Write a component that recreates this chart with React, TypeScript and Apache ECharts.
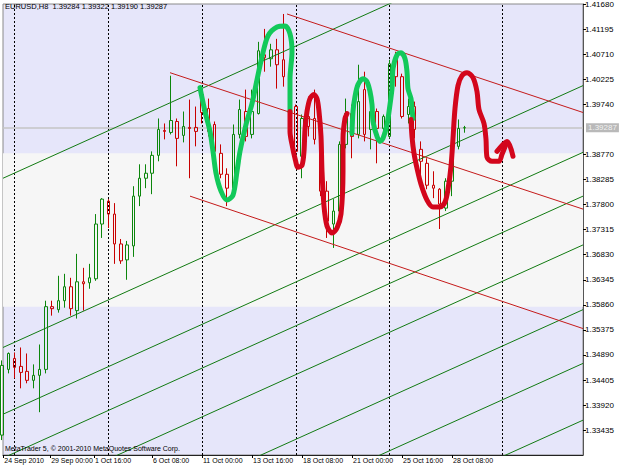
import React, { useEffect, useRef } from 'react';
import * as echarts from 'echarts';

const titleText = 'EURUSD,H8  1.39284 1.39322 1.39190 1.39287';
const copyrightText = 'MetaTrader 5, \u00A9 2001-2010 MetaQuotes Software Corp.';

// H8 bars, index 0 = 24 Sep 2010 08:00
const opens = [
  1.33340, 1.34611, 1.34823, 1.34669, 1.34573, 1.34399, 1.34496, 1.34611, 1.35825, 1.35767,
  1.35940, 1.36210, 1.35748, 1.36306, 1.36287, 1.36364, 1.37423, 1.37866, 1.37616, 1.37038,
  1.36730, 1.37000, 1.37963, 1.38309, 1.38406, 1.38752, 1.39234, 1.39195, 1.39407, 1.39138,
  1.39292, 1.39292, 1.39927, 1.39658, 1.39349, 1.38791, 1.38386, 1.38117, 1.39157, 1.39600,
  1.39157, 1.39561, 1.40698, 1.40621, 1.40794, 1.40601, 1.40274, 1.39696, 1.38733, 1.39504,
  1.39465, 1.38926, 1.38059, 1.37423, 1.37674, 1.38964, 1.39561, 1.39157, 1.40024, 1.39253,
  1.39600, 1.39272, 1.39118, 1.40659, 1.40274, 1.39542, 1.39696, 1.38868, 1.38598, 1.38174,
  1.38097, 1.37731, 1.38252, 1.38926, 1.39284,
];
const closes = [
  1.34688, 1.34919, 1.34650, 1.34553, 1.34399, 1.34496, 1.34611, 1.35825, 1.35786, 1.35940,
  1.36210, 1.35786, 1.36306, 1.36268, 1.36383, 1.37423, 1.37905, 1.37616, 1.37038, 1.36711,
  1.37019, 1.37963, 1.38309, 1.38406, 1.38752, 1.39253, 1.39215, 1.39426, 1.39080, 1.39311,
  1.39272, 1.39215, 1.39581, 1.39215, 1.38829, 1.38386, 1.38117, 1.39157, 1.39638, 1.39118,
  1.39600, 1.40775, 1.40640, 1.40794, 1.40505, 1.40274, 1.39792, 1.38829, 1.39465, 1.39311,
  1.39061, 1.38059, 1.37481, 1.37674, 1.38964, 1.39561, 1.39118, 1.39792, 1.39157, 1.39600,
  1.39272, 1.39504, 1.40524, 1.40274, 1.39504, 1.39696, 1.39253, 1.38637, 1.38174, 1.38117,
  1.37809, 1.38252, 1.38791, 1.39272, 1.39287,
];
const lows = [
  1.33244, 1.34534, 1.34438, 1.34245, 1.34342, 1.34245, 1.33783, 1.34534, 1.35651, 1.35709,
  1.35805, 1.35651, 1.35594, 1.35748, 1.36171, 1.36325, 1.37154, 1.37346, 1.36653, 1.36653,
  1.36345, 1.36788, 1.37770, 1.38117, 1.38001, 1.38637, 1.39061, 1.39157, 1.38540, 1.39003,
  1.38309, 1.38926, 1.39369, 1.39118, 1.38637, 1.38309, 1.37770, 1.38059, 1.39080, 1.39022,
  1.39080, 1.39542, 1.40370, 1.40467, 1.40043, 1.40081, 1.39600, 1.38637, 1.38309, 1.39118,
  1.38964, 1.37963, 1.37154, 1.36961, 1.37481, 1.38887, 1.38695, 1.39080, 1.39022, 1.38868,
  1.38598, 1.39215, 1.39080, 1.40081, 1.39465, 1.39369, 1.39080, 1.38309, 1.38097, 1.37924,
  1.37327, 1.37674, 1.37963, 1.38868, 1.39190,
];
const highs = [
  1.34785, 1.34939, 1.34939, 1.35035, 1.34919, 1.34708, 1.35093, 1.35940, 1.35940, 1.36422,
  1.36460, 1.36383, 1.36846, 1.36576, 1.36653, 1.37616, 1.37924, 1.37905, 1.37828, 1.37134,
  1.37096, 1.38155, 1.38579, 1.38579, 1.38829, 1.39465, 1.39369, 1.40293, 1.39465, 1.39600,
  1.39831, 1.39696, 1.40081, 1.39850, 1.39407, 1.38964, 1.38502, 1.39349, 1.39831, 1.40024,
  1.40024, 1.40948, 1.41198, 1.40910, 1.41006, 1.41487, 1.40370, 1.39735, 1.39542, 1.39889,
  1.40024, 1.39022, 1.38252, 1.37905, 1.39022, 1.39850, 1.39735, 1.40505, 1.40370, 1.39735,
  1.39658, 1.39542, 1.40601, 1.40756, 1.40332, 1.39850, 1.39792, 1.39022, 1.38695, 1.38444,
  1.38117, 1.38309, 1.38868, 1.39446, 1.39322,
];

const xMin = 0.16;
const xMax = 92.96;
const yMin = 1.32955;
const yMax = 1.4168;

const xTickIdx = [0.2, 7.7, 14.7, 24, 32, 40, 48, 56, 64, 72];
const xTickLabels = [
  '24 Sep 2010', '29 Sep 00:00', '1 Oct 16:00', '6 Oct 08:00', '11 Oct 00:00',
  '13 Oct 16:00', '18 Oct 08:00', '21 Oct 00:00', '25 Oct 16:00', '28 Oct 08:00',
];
const yTicks = [
  1.33435, 1.3392, 1.34405, 1.3489, 1.35375, 1.3586, 1.36345, 1.3683, 1.37315, 1.378,
  1.38285, 1.3877, 1.3974, 1.40225, 1.4071, 1.41195, 1.4168,
];
const weekSeparators = [2, 17, 32, 47, 62, 80];
const bidPrice = 1.39287;
const bandLow = 1.35825;
const bandHigh = 1.38791;

// channel lines: price at left edge and right edge of the plot
const greenLeft = [1.38309, 1.35035, 1.33744, 1.32897, 1.31953, 1.30701, 1.29661, 1.28563];
const greenRight = [1.43375, 1.40101, 1.3881, 1.37963, 1.37019, 1.35767, 1.34727, 1.33629];
// red lines: [startIdx, startPrice, endPrice at right edge]
const redStartIdx = [45.6, 26.88, 30.08];
const redStartPrice = [1.41487, 1.40351, 1.37963];
const redEndPrice = [1.39581, 1.37712, 1.35401];

// hand-drawn strokes, [bar index, price]
const greenStroke1 = [
  [31.68, 1.40062], [32.48, 1.396], [33.28, 1.39215], [33.76, 1.38829], [34.24, 1.38406],
  [35.04, 1.38059], [36.0, 1.37886], [36.96, 1.37982], [37.6, 1.38444], [38.08, 1.38829],
  [39.04, 1.39349], [40.0, 1.39754], [40.8, 1.40216], [41.6, 1.40659], [42.56, 1.41064],
  [44.0, 1.41237], [45.28, 1.41256], [46.08, 1.41102], [46.4, 1.40756], [46.08, 1.40235],
  [46.08, 1.396],
];
const redStroke1 = [
  [46.08, 1.396], [46.08, 1.39215], [46.4, 1.38964], [46.88, 1.38695], [47.36, 1.38521],
  [48.0, 1.3856], [48.32, 1.38829], [48.48, 1.39253], [48.8, 1.396], [49.28, 1.3985],
  [49.92, 1.39927], [50.4, 1.3985], [50.72, 1.396], [51.04, 1.39118], [51.2, 1.38444],
  [51.52, 1.3777], [52.0, 1.37385], [52.8, 1.3725], [53.6, 1.37346], [54.24, 1.37616],
  [54.56, 1.38444], [54.56, 1.3908], [54.88, 1.39465], [55.2, 1.39561],
];
const greenStroke2 = [
  [56.0, 1.39176], [56.16, 1.396], [56.48, 1.39889], [56.96, 1.4012], [57.76, 1.40235],
  [58.4, 1.40178], [58.88, 1.39985], [59.2, 1.39735], [59.36, 1.39407], [60.0, 1.39118],
  [60.48, 1.39022], [60.96, 1.3908], [61.6, 1.39349], [62.08, 1.39735], [62.4, 1.40043],
  [62.56, 1.40428], [63.2, 1.40698], [63.84, 1.40736], [64.48, 1.40621], [64.8, 1.4037],
  [64.96, 1.40043], [65.44, 1.3985], [65.6, 1.39658], [65.76, 1.39465],
];
const redStroke2 = [
  [65.44, 1.39446], [65.6, 1.39118], [65.92, 1.38791], [66.4, 1.38502], [67.04, 1.38194],
  [68.0, 1.37886], [68.96, 1.37751], [70.08, 1.37751], [70.88, 1.37847], [71.36, 1.38097],
  [71.84, 1.3854], [72.16, 1.3908], [72.48, 1.39658], [72.96, 1.40101], [73.6, 1.40293],
  [74.4, 1.40351], [75.36, 1.40255], [76.0, 1.39985], [76.32, 1.39638], [77.12, 1.39369],
  [77.44, 1.39061], [77.6, 1.38714], [78.4, 1.38637], [79.52, 1.38637], [80.0, 1.38772],
  [80.64, 1.38964],
];
const redArrowHead = [[79.2, 1.38829], [80.8, 1.39022], [81.76, 1.38733]];

const FONT = '"Liberation Sans", Arial, sans-serif';
const BULL = '#0c860c';
const BEAR = '#c80000';

export default function App() {
  const ref = useRef<HTMLDivElement>(null);
  useEffect(() => {
    if (!ref.current) return;
    const chart = echarts.init(ref.current, null, { renderer: 'svg' });
    const candleData = opens.map((o, i) => [i, o, closes[i], lows[i], highs[i]]);

    const channelSeries: any[] = [];
    greenLeft.forEach((l, i) => {
      channelSeries.push({
        type: 'line', silent: true, symbol: 'none', z: 3,
        data: [[xMin, l], [xMax, greenRight[i]]],
        lineStyle: { color: '#117a11', width: 1 },
      });
    });
    redStartIdx.forEach((s, i) => {
      channelSeries.push({
        type: 'line', silent: true, symbol: 'none', z: 3,
        data: [[s, redStartPrice[i]], [xMax, redEndPrice[i]]],
        lineStyle: { color: '#c41a1a', width: 1 },
      });
    });
    const stroke = (data: number[][], color: string) => ({
      type: 'line', silent: true, symbol: 'none', z: 4, smooth: 0.3,
      data,
      lineStyle: { color, width: 5, cap: 'round', join: 'round' },
    });

    chart.setOption({
      animation: false,
      textStyle: { fontFamily: FONT },
      grid: {
        left: 3, right: 42, top: 2, bottom: 14, show: true,
        backgroundColor: '#e6e6fa', borderColor: '#8a8a8a', borderWidth: 1,
      },
      xAxis: {
        type: 'value', min: xMin, max: xMax, position: 'bottom',
        splitLine: { show: false },
        axisLine: { show: true, lineStyle: { color: '#222', width: 1 } },
        axisTick: { show: true, customValues: xTickIdx, length: 3, lineStyle: { color: '#000' } },
        axisLabel: {
          customValues: xTickIdx, align: 'left', margin: 2, fontSize: 7, color: '#000',
          fontFamily: FONT, padding: [0, 0, 0, 1],
          formatter: (v: number) => {
            const k = xTickIdx.findIndex((t) => Math.abs(t - v) < 0.01);
            return k >= 0 ? xTickLabels[k] : '';
          },
        },
      },
      yAxis: {
        type: 'value', min: yMin, max: yMax, position: 'right', scale: true,
        splitLine: { show: false },
        axisLine: { show: true, lineStyle: { color: '#555', width: 1 } },
        axisTick: { show: true, customValues: yTicks, length: 3, lineStyle: { color: '#000' } },
        axisLabel: {
          customValues: yTicks, margin: 2, fontSize: 8, color: '#000', fontFamily: FONT,
          showMaxLabel: true, showMinLabel: true,
          formatter: (v: number) => v.toFixed(5),
        },
      },
      series: [
        {
          type: 'candlestick', z: 2, clip: false, barWidth: 3,
          data: candleData,
          encode: { x: 0, y: [1, 2, 3, 4] },
          itemStyle: {
            color: 'rgba(0,0,0,0)', color0: 'rgba(0,0,0,0)',
            borderColor: BULL, borderColor0: BEAR, borderColorDoji: BULL, borderWidth: 1,
          },
          markArea: {
            silent: true, z: 0.5,
            itemStyle: { color: '#f6f6f6' },
            data: [[{ yAxis: bandLow }, { yAxis: bandHigh }]],
          },
          markLine: {
            silent: true, z: 1, symbol: ['none', 'none'], animation: false, precision: 5,
            label: { show: false },
            data: [
              ...weekSeparators.map((s) => ({
                xAxis: s,
                lineStyle: { color: '#000', type: [2, 2], width: 1 },
              })),
              {
                yAxis: bidPrice,
                lineStyle: { color: '#c4c4c4', type: 'solid', width: 1.5 },
                label: {
                  show: true, position: 'end', distance: 3,
                  formatter: bidPrice.toFixed(5),
                  backgroundColor: '#b9b9b9', color: '#f2f2f2',
                  padding: [1, 2, 0, 2], fontSize: 8, fontFamily: FONT,
                },
              },
            ],
          },
        },
        ...channelSeries,
        stroke(greenStroke1, '#12c95a'),
        stroke(redStroke1, '#d3061c'),
        stroke(greenStroke2, '#12c95a'),
        stroke(redStroke2, '#d3061c'),
        stroke(redArrowHead, '#d3061c'),
      ],
      graphic: [
        {
          type: 'text', left: 5, top: 2, z: 10, silent: true,
          style: { text: titleText, font: `7.5px ${FONT}`, fill: '#000' },
        },
        {
          type: 'text', left: 5, top: 445, z: 10, silent: true,
          style: { text: copyrightText, font: `7px ${FONT}`, fill: '#000' },
        },
      ],
    });
    return () => chart.dispose();
  }, []);
  return (
    <div
      ref={ref}
      style={{ position: 'absolute', left: 0, top: 0, width: 625, height: 469, background: '#fff' }}
    />
  );
}
